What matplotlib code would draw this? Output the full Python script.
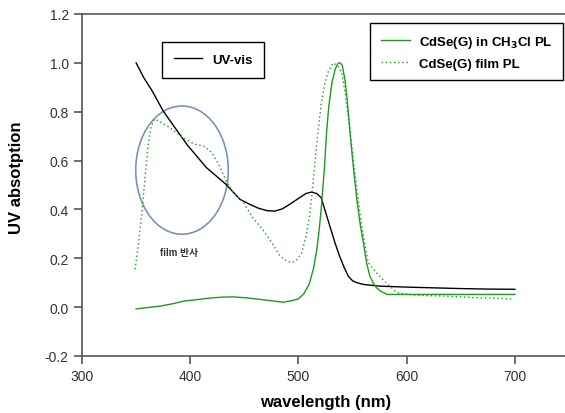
import matplotlib
matplotlib.use('Agg')
import matplotlib.pyplot as plt
from matplotlib.patches import Ellipse

plt.rcParams['font.family'] = ['Liberation Sans', 'Noto Sans CJK KR', 'DejaVu Sans']

# UV-vis absorption (black)
uv_nm = [350, 357, 365, 375, 385, 398, 415, 433, 446, 455, 463, 471, 478, 485, 492,
         500, 507, 512, 517, 521, 525, 529, 534, 538, 542, 546, 550, 554, 560, 575,
         600, 625, 650, 675, 700]
uv_val = [1.0, 0.94, 0.884, 0.803, 0.74, 0.66, 0.571, 0.503, 0.441, 0.421, 0.405,
          0.395, 0.393, 0.402, 0.421, 0.445, 0.465, 0.471, 0.465, 0.448, 0.39, 0.332,
          0.26, 0.209, 0.165, 0.127, 0.108, 0.1, 0.093, 0.086, 0.082, 0.079, 0.076,
          0.074, 0.073]

# CdSe(G) in CH3Cl PL (green solid)
sol_nm = [350, 360, 372, 385, 394, 405, 418, 429, 440, 452, 464, 475, 486, 495, 500,
          505, 510, 514, 517, 519, 521, 524, 526, 528, 531, 534, 536.5, 538.5, 540.5,
          543, 545, 548, 551, 554, 557, 560, 563, 566, 569, 572, 576, 582, 600, 650, 700]
sol_val = [-0.007, -0.002, 0.004, 0.015, 0.025, 0.030, 0.037, 0.041, 0.042, 0.038,
           0.032, 0.026, 0.02, 0.028, 0.034, 0.055, 0.095, 0.16, 0.236, 0.31, 0.40,
           0.57, 0.715, 0.82, 0.92, 0.975, 0.998, 1.0, 0.99, 0.93, 0.85, 0.70, 0.56,
           0.44, 0.34, 0.264, 0.18, 0.127, 0.10, 0.08, 0.065, 0.052, 0.052, 0.052, 0.052]

# CdSe(G) film PL (green dotted)
film_nm = [349, 352, 354, 356.5, 359, 361, 364, 367, 372, 381, 393, 404, 412, 420, 427,
           434, 440, 449, 458, 467, 476, 483, 489, 494, 499, 503, 507, 510, 512, 515,
           518, 521, 524.5, 528, 532, 536, 540, 543, 546, 550, 554, 557, 560, 564.5,
           572, 581, 591, 605, 620, 637, 650, 668, 685, 699]
film_val = [0.155, 0.25, 0.33, 0.44, 0.57, 0.66, 0.74, 0.77, 0.76, 0.735, 0.694, 0.667,
            0.66, 0.633, 0.578, 0.51, 0.469, 0.43, 0.365, 0.318, 0.26, 0.209, 0.19,
            0.182, 0.195, 0.223, 0.29, 0.37, 0.441, 0.58, 0.715, 0.83, 0.92, 0.97,
            0.999, 0.99, 0.96, 0.88, 0.78, 0.63, 0.482, 0.38, 0.291, 0.182, 0.141, 0.1,
            0.059, 0.05, 0.047, 0.045, 0.042, 0.038, 0.036, 0.032]

green = '#1f9a1f'
grey = '#555555'

fig = plt.figure(figsize=(5.65, 4.14), dpi=100)
ax = fig.add_axes([82 / 565, 57 / 414, 487 / 565, 342 / 414])

l_uv, = ax.plot(uv_nm, uv_val, color='black', lw=1.0, label='UV-vis')
l_sol, = ax.plot(sol_nm, sol_val, color=green, lw=1.0, label=r'CdSe(G) in CH$_\mathbf{3}$Cl PL')
l_film, = ax.plot(film_nm, film_val, color=green, lw=1.0, linestyle=(0, (1, 2)),
                  label='CdSe(G) film PL')

ax.add_patch(Ellipse((392.4, 0.561), 85.5, 0.525, fill=False, edgecolor='#7a93b8', lw=1.2))
ax.text(372, 0.225, 'film 반사', fontsize=7, fontweight='bold', color='#333333', va='center')

ax.set_xlim(300, 750)
ax.set_ylim(-0.2, 1.2)
ax.set_xticks([300, 400, 500, 600, 700])
ax.set_yticks([-0.2, 0.0, 0.2, 0.4, 0.6, 0.8, 1.0, 1.2])
ax.set_yticklabels(['-0.2', '0.0', '0.2', '0.4', '0.6', '0.8', '1.0', '1.2'])
ax.tick_params(direction='out', length=6, width=1.2, color=grey, labelsize=10,
               labelcolor='#333333')
for s in ['left', 'bottom', 'top']:
    ax.spines[s].set_color(grey)
    ax.spines[s].set_linewidth(1.2)
ax.spines['right'].set_visible(False)

ax.set_xlabel('wavelength (nm)', fontsize=12, fontweight='bold')
ax.xaxis.set_label_coords(0.5, -0.11)
ax.set_ylabel('UV absotption', fontsize=12, fontweight='bold')
ax.yaxis.set_label_coords(-0.119, 0.524)

leg1 = ax.legend(handles=[l_uv], loc='upper left', bbox_to_anchor=(162 / 565, 1 - 43 / 414),
                 bbox_transform=fig.transFigure, fancybox=False, framealpha=1,
                 edgecolor='black', prop={'weight': 'bold', 'size': 9.5}, borderpad=0.9,
                 handlelength=2.1, borderaxespad=0)
leg1.get_frame().set_linewidth(1.0)
ax.add_artist(leg1)
leg2 = ax.legend(handles=[l_sol, l_film], loc='upper left',
                 bbox_to_anchor=(370 / 565, 1 - 24 / 414), bbox_transform=fig.transFigure,
                 fancybox=False, framealpha=1, edgecolor='black',
                 prop={'weight': 'bold', 'size': 9.5}, borderpad=0.8, handlelength=2.2,
                 handletextpad=0.7, labelspacing=0.6, borderaxespad=0)
leg2.get_frame().set_linewidth(1.0)

fig.savefig('out.png', dpi=100)
